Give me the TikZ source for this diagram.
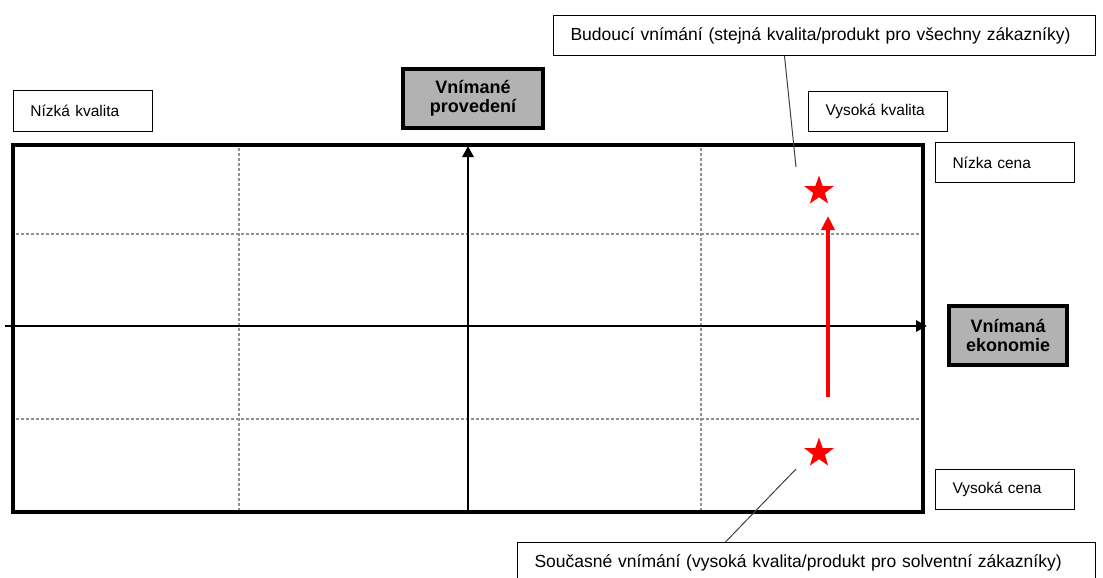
\documentclass[tikz,border=0pt]{standalone}
\usepackage{fontspec}
\setmainfont{Liberation Sans}
\usetikzlibrary{arrows.meta,shapes.geometric}
\definecolor{boxgray}{RGB}{178,178,178}
\definecolor{dotgray}{RGB}{145,145,145}
\begin{document}
\begin{tikzpicture}[x=1pt,y=-1pt,
  lbl/.style={draw=black, line width=1pt, anchor=north west, align=left,
    inner xsep=17pt, inner ysep=0pt, font=\fontsize{15.5}{18}\selectfont},
  callbox/.style={lbl, font=\fontsize{17.5}{20}\selectfont},
  axisbox/.style={draw=black, line width=4pt, fill=boxgray, align=center,
    inner sep=0pt, font=\bfseries\fontsize{18}{19.5}\selectfont},
  gridline/.style={dotgray, line width=2.5pt, dash pattern=on 2.5pt off 2.5pt},
  axisarrow/.style={line width=2.8pt, -{Triangle[width=11pt,length=11pt]}},
  redarrow/.style={red, line width=4pt, -{Triangle[width=13pt,length=14pt]}},
  redstar/.style={star, star points=5, star point ratio=2.5, fill=red,
    draw=none, minimum size=31pt, inner sep=0pt},
  callout/.style={draw=black!75, line width=1pt},
  frame/.style={draw=black, line width=3.5pt, anchor=north west, inner sep=0pt}
]
\useasboundingbox (0,0) rectangle (1103,578);
\clip (0,0) rectangle (1103,578);

% grid
\draw[gridline] (239,143) -- (239,510);
\draw[gridline] (701,143) -- (701,510);
\draw[gridline] (11,234) -- (921,234);
\draw[gridline] (11,419) -- (921,419);

% frame
\node[frame, minimum width=910pt, minimum height=367pt] (fr) at (11,143) {};

% axes
\coordinate (xs) at (5,326);
\coordinate (xe) at (927,326);
\coordinate (ys) at (468,510);
\coordinate (ye) at (468,146);
\draw[axisarrow] (xs) -- (xe);
\draw[axisarrow] (ys) -- (ye);

% axis labels
\node[axisbox, minimum width=140pt, minimum height=59pt] (vp) at (473,98.5) {Vnímané\\provedení};
\node[axisbox, minimum width=118pt, minimum height=59pt] (ve) at (1008,335.5) {Vnímaná\\ekonomie};

% corner labels
\node[lbl, text width=105pt, minimum height=41pt] (nk) at (13,90) {Nízká kvalita};
\node[lbl, text width=105pt, minimum height=40pt] (vk) at (808,91) {Vysoká kvalita};
\node[lbl, text width=105pt, minimum height=40pt] (nc) at (935,142) {Nízka cena};
\node[lbl, text width=105pt, minimum height=40pt] (vc) at (935,469) {Vysoká cena};

% callout boxes
\node[callbox, text width=508pt, minimum height=40pt] (bud) at (553,15) {Budoucí vnímání (stejná kvalita/produkt pro všechny zákazníky)};
\node[callbox, text width=544pt, minimum height=40pt] (sou) at (517,542) {Současné vnímání (vysoká kvalita/produkt pro solventní zákazníky)};

% stars
\node[redstar] (s1) at (819,191) {};
\node[redstar] (s2) at (819,453) {};

% red arrow
\coordinate (ra) at (828,397);
\coordinate (rb) at (828,216);
\draw[redarrow] (ra) -- (rb);

% callout lines
\coordinate (ftip) at (796,167);
\coordinate (ctip) at (796,469);
\draw[callout] ([xshift=-40pt]bud.south) -- (ftip);
\draw[callout] ([xshift=-81pt]sou.north) -- (ctip);
\end{tikzpicture}
\end{document}
